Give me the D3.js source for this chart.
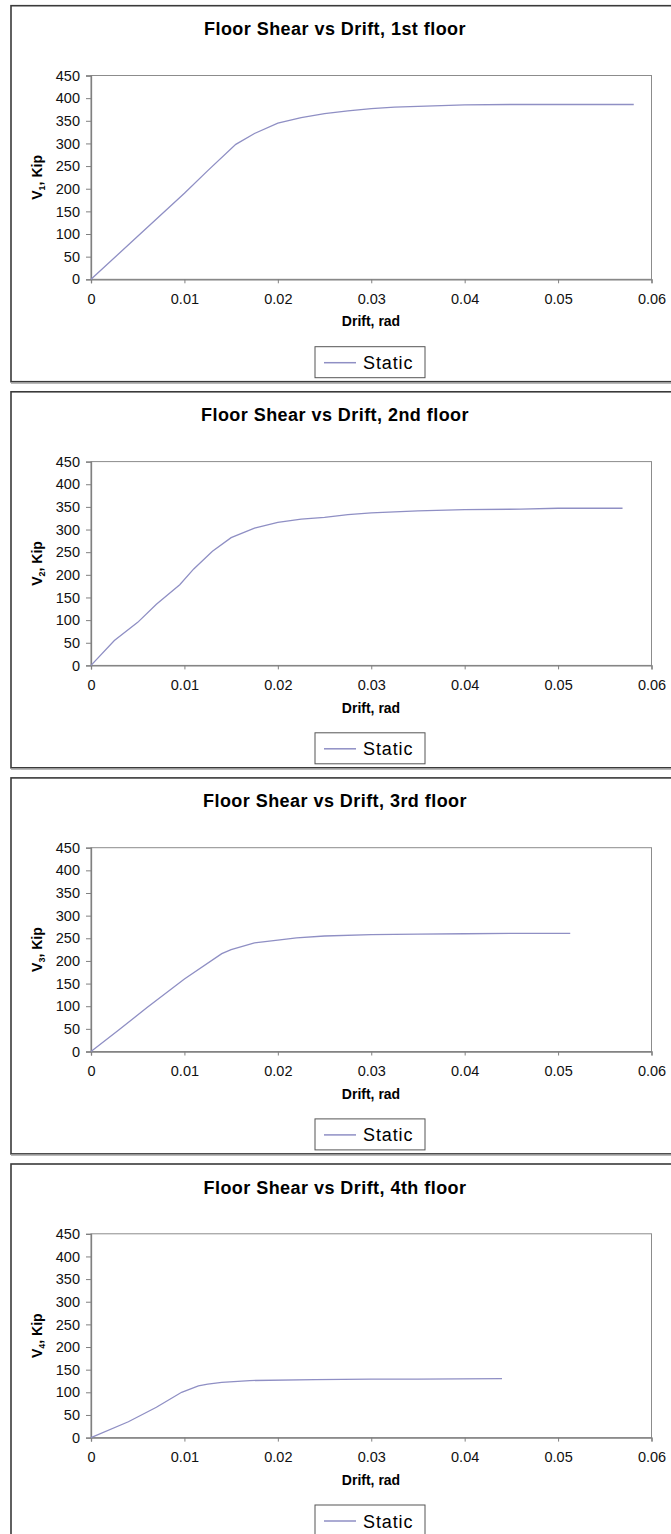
<!DOCTYPE html>
<html>
<head>
<meta charset="utf-8">
<script src="https://cdn.jsdelivr.net/npm/d3@7"></script>
<style>
  html, body { margin: 0; padding: 0; background: #ffffff; }
  svg { display: block; font-family: "Liberation Sans", Arial, sans-serif; }
</style>
</head>
<body>
<svg id="chart" width="671" height="1534"></svg>
<script>
// ---- data ----
const titles = [
  "Floor Shear vs Drift, 1st floor",
  "Floor Shear vs Drift, 2nd floor",
  "Floor Shear vs Drift, 3rd floor",
  "Floor Shear vs Drift, 4th floor"
];
const floorSubscripts = ["1", "2", "3", "4"];
const seriesName = "Static";
const xTicks = [0, 0.01, 0.02, 0.03, 0.04, 0.05, 0.06];
const yTicks = [0, 50, 100, 150, 200, 250, 300, 350, 400, 450];

const drift1 = [0, 0.005, 0.01, 0.0125, 0.0155, 0.0175, 0.02, 0.0225, 0.025, 0.0275, 0.03, 0.0325, 0.035, 0.04, 0.045, 0.05, 0.0581];
const shear1 = [0, 95, 190, 240, 298, 322, 345, 357, 366, 372, 377, 380, 382, 385, 386, 386, 386];

const drift2 = [0, 0.0025, 0.005, 0.007, 0.0095, 0.011, 0.013, 0.015, 0.0175, 0.02, 0.0225, 0.025, 0.0275, 0.03, 0.035, 0.04, 0.046, 0.05, 0.0569];
const shear2 = [0, 55, 95, 135, 178, 213, 252, 282, 303, 316, 323, 327, 333, 337, 341, 344, 345, 347, 347];

const drift3 = [0, 0.003, 0.006, 0.01, 0.014, 0.015, 0.0175, 0.02, 0.022, 0.025, 0.03, 0.035, 0.04, 0.045, 0.0513];
const shear3 = [0, 48, 97, 160, 216, 225, 240, 246, 251, 255, 258, 259, 260, 261, 261];

const drift4 = [0, 0.004, 0.007, 0.0097, 0.0115, 0.0125, 0.014, 0.017, 0.024, 0.03, 0.035, 0.044];
const shear4 = [0, 35, 67, 100, 114, 118, 122, 126, 128, 129, 129, 130];

const drifts = [drift1, drift2, drift3, drift4];
const shears = [shear1, shear2, shear3, shear4];

// ---- layout ----
const svg = d3.select("#chart");
const panelTop0 = 5.7, panelStep = 386.1, panelH = 376;
const plotLeft = 91, plotRight = 651.5;
const plotTopOff = 69.8, plotBotOff = 273.6;

const x = d3.scaleLinear().domain([0, 0.06]).range([plotLeft, plotRight]);
const y = d3.scaleLinear().domain([0, 450]).range([plotBotOff, plotTopOff]);

titles.forEach((title, i) => {
  const g = svg.append("g").attr("transform", `translate(0,${panelTop0 + i * panelStep})`);

  // chart border
  g.append("rect")
    .attr("x", 11).attr("y", 0).attr("width", 700).attr("height", panelH)
    .attr("fill", "#ffffff").attr("stroke", "#3a3a3a").attr("stroke-width", 1.6);
  g.append("line")
    .attr("x1", 11).attr("x2", 700).attr("y1", panelH + 1.2).attr("y2", panelH + 1.2)
    .attr("stroke", "#a0a0a0").attr("stroke-width", 1.5);

  // title
  g.append("text")
    .attr("x", 335).attr("y", 29.6)
    .attr("text-anchor", "middle")
    .attr("font-size", 18).attr("font-weight", "bold")
    .attr("letter-spacing", 0.45)
    .attr("fill", "#000")
    .text(title);

  // plot area
  g.append("rect")
    .attr("x", plotLeft).attr("y", plotTopOff)
    .attr("width", plotRight - plotLeft).attr("height", plotBotOff - plotTopOff)
    .attr("fill", "none").attr("stroke", "#8c8c8c").attr("stroke-width", 1);

  // axes
  const xAxis = g.append("g").attr("transform", `translate(0,${plotBotOff})`)
    .call(d3.axisBottom(x).tickValues(xTicks).tickSize(4).tickPadding(10)
      .tickFormat(d => d === 0 ? "0" : d3.format(".2f")(d)));
  xAxis.select(".domain").attr("stroke", "#808080").attr("stroke-width", 1.3);
  xAxis.selectAll(".tick line").attr("stroke", "#808080");
  xAxis.selectAll(".tick text").attr("font-size", 14.5).attr("fill", "#111")
    .attr("font-family", "Liberation Sans, Arial, sans-serif");

  const yAxis = g.append("g").attr("transform", `translate(${plotLeft},0)`)
    .call(d3.axisLeft(y).tickValues(yTicks).tickSize(5).tickPadding(6));
  yAxis.select(".domain").attr("stroke", "#808080").attr("stroke-width", 1.3);
  yAxis.selectAll(".tick line").attr("stroke", "#808080");
  yAxis.selectAll(".tick text").attr("font-size", 14.5).attr("fill", "#111")
    .attr("font-family", "Liberation Sans, Arial, sans-serif");

  // x-axis title
  g.append("text")
    .attr("x", 371).attr("y", 320.8)
    .attr("text-anchor", "middle")
    .attr("font-size", 14).attr("font-weight", "bold")
    .attr("fill", "#000")
    .text("Drift, rad");

  // y-axis title
  const yt = g.append("text")
    .attr("transform", `translate(42,${(plotTopOff + plotBotOff) / 2}) rotate(-90)`)
    .attr("text-anchor", "middle")
    .attr("font-size", 14).attr("font-weight", "bold")
    .attr("fill", "#000");
  yt.append("tspan").text("V");
  yt.append("tspan").attr("font-size", 9).attr("dy", 3).text(floorSubscripts[i]);
  yt.append("tspan").attr("dy", -3).text(", Kip");

  // series line
  const pts = drifts[i].map((d, k) => [d, shears[i][k]]);
  g.append("path")
    .datum(pts)
    .attr("fill", "none")
    .attr("stroke", "#8f8fc4")
    .attr("stroke-width", 1.3)
    .attr("d", d3.line().x(d => x(d[0])).y(d => y(d[1])));

  // legend
  g.append("rect")
    .attr("x", 315).attr("y", 341).attr("width", 110).attr("height", 31)
    .attr("fill", "#fff").attr("stroke", "#555").attr("stroke-width", 1);
  g.append("line")
    .attr("x1", 324).attr("x2", 356).attr("y1", 357).attr("y2", 357)
    .attr("stroke", "#8f8fc4").attr("stroke-width", 1.5);
  g.append("text")
    .attr("x", 363).attr("y", 363.5)
    .attr("font-size", 18).attr("letter-spacing", 0.9)
    .attr("fill", "#000")
    .text(seriesName);
});
</script>
</body>
</html>
